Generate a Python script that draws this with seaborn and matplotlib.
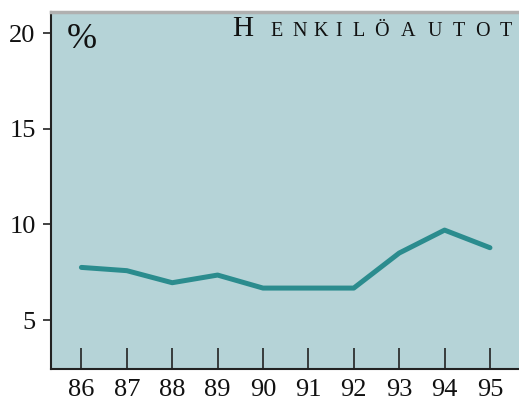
import matplotlib
matplotlib.use("Agg")
import matplotlib.pyplot as plt
import seaborn as sns
import pandas as pd

years = [86, 87, 88, 89, 90, 91, 92, 93, 94, 95]
year_labels = ["86", "87", "88", "89", "90", "91", "92", "93", "94", "95"]
values = [7.75, 7.58, 6.95, 7.35, 6.67, 6.67, 6.67, 8.5, 9.7, 8.78]
y_ticks = [5, 10, 15, 20]
title_letters = ["H", "E", "N", "K", "I", "L", "Ö", "A", "U", "T", "O", "T"]
title_centers_px = [243, 277, 300, 321, 339, 359, 381, 408, 435, 459, 482, 506]

df = pd.DataFrame({"year": years, "value": values})

sns.set_theme(style="white")
plt.rcParams["font.family"] = ["Liberation Serif", "DejaVu Serif"]

W, H = 519, 403
fig = plt.figure(figsize=(W / 100, H / 100), dpi=100)
ax = fig.add_axes([51 / W, 1 - 369 / H, 1 - 51 / W, (369 - 12) / H])
ax.set_facecolor("#b5d3d7")

sns.lineplot(data=df, x="year", y="value", ax=ax, color="#2b8c8e", linewidth=3.6)

ax.set_xlim(85.33, 95.64)
ax.set_ylim(2.44, 21.1)
ax.set_xticks(years)
ax.set_xticklabels(year_labels)
ax.set_yticks(y_ticks)
ax.set_yticklabels([str(v) for v in y_ticks])
ax.set_xlabel("")
ax.set_ylabel("")

ax.tick_params(axis="x", direction="in", length=15, width=1.2, color="#222222",
               labelsize=19, pad=7, bottom=True, labelcolor="#111111")
ax.tick_params(axis="y", direction="out", length=6, width=1.2, color="#222222",
               labelsize=19, pad=5, left=True, labelcolor="#111111")

for s in ["left", "bottom"]:
    ax.spines[s].set_color("#222222")
    ax.spines[s].set_linewidth(1.5)
ax.spines["right"].set_visible(False)
ax.spines["top"].set_color("#b0b0b0")
ax.spines["top"].set_linewidth(2.5)

fig.text(67 / W, 1 - 48 / H, "%", fontsize=26, ha="left", va="baseline",
         color="#111111")

for i, (ch, cx) in enumerate(zip(title_letters, title_centers_px)):
    fs = 21 if i == 0 else 14.5
    fig.text(cx / W, 1 - 36 / H, ch, fontsize=fs, ha="center", va="baseline",
             color="#111111")

fig.savefig("out.png", dpi=100)
